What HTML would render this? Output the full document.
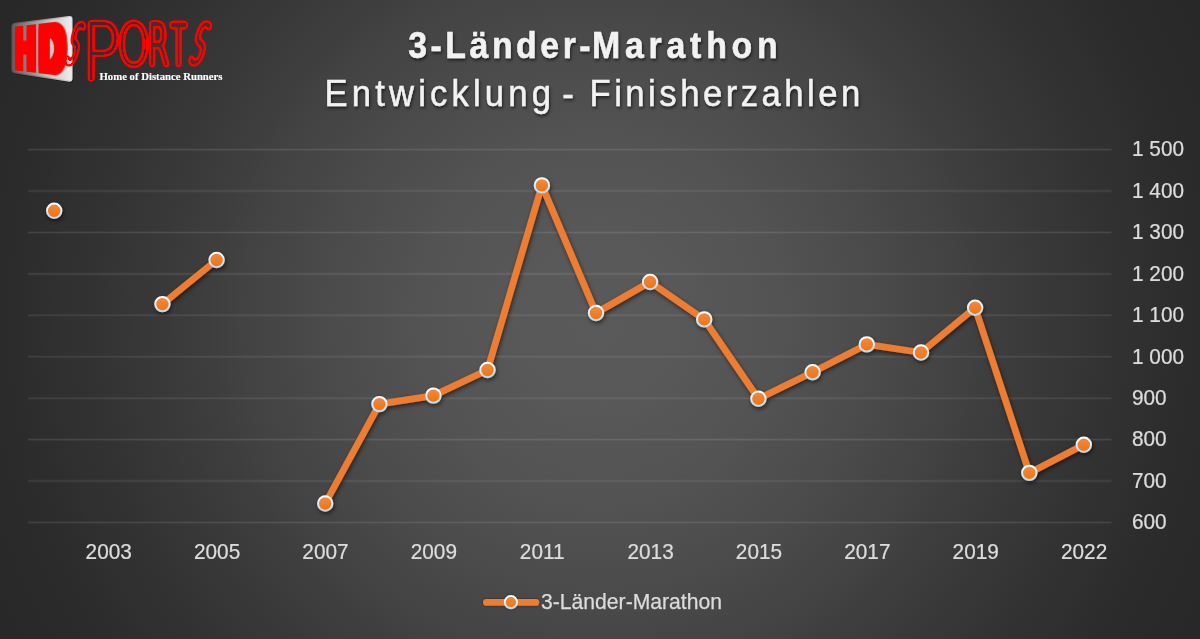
<!DOCTYPE html>
<html lang="de">
<head>
<meta charset="utf-8">
<title>3-Länder-Marathon – Entwicklung Finisherzahlen</title>
<style>
html,body{margin:0;padding:0;background:#2a2a2a;}
body{width:1200px;height:639px;overflow:hidden;}
#stage{position:relative;width:1200px;height:639px;overflow:hidden;}
.layer{position:absolute;left:0;top:0;display:block;}
.tv{position:absolute;left:3.24px;top:20.3px;width:68.6px;height:56.6px;
 transform-origin:34.3px 28.3px;transform:perspective(118px) rotateY(-30deg);}
.hd{position:absolute;left:6.0px;top:20.0px;font-family:"Liberation Sans",sans-serif;font-weight:bold;
 font-size:36.1px;line-height:36.1px;color:#ff0000;white-space:nowrap;letter-spacing:4.6px;
 transform-origin:0 30.56px;transform:scale(1,1.68);
 text-shadow:-3.30px -2.27px 0 #ff0000,-3.30px 0.00px 0 #ff0000,-3.30px 2.27px 0 #ff0000,-1.65px -2.27px 0 #ff0000,-1.65px 0.00px 0 #ff0000,-1.65px 2.27px 0 #ff0000,0.00px -2.27px 0 #ff0000,0.00px 2.27px 0 #ff0000,1.65px -2.27px 0 #ff0000,1.65px 0.00px 0 #ff0000,1.65px 2.27px 0 #ff0000,3.30px -2.27px 0 #ff0000,3.30px 0.00px 0 #ff0000,3.30px 2.27px 0 #ff0000;}
.sports{position:absolute;left:0;top:0;width:240px;height:100px;line-height:0;font-size:100px;font-family:'DejaVu Sans',"Liberation Sans",sans-serif;font-weight:200;color:#ff0000;white-space:nowrap;}
.sports span{display:inline-block;width:0;height:0;line-height:0;transform-origin:0 0;}
.sports{filter:url(#dbl);}

text{font-family:"Liberation Sans",sans-serif;}
.ax{font-size:21.4px;fill:#dcdcdc;stroke:#dcdcdc;stroke-width:0.25px;}
.t1{font-size:36.5px;font-weight:bold;fill:#f2f2f2;stroke:#f2f2f2;stroke-width:0.5px;}
.t2{font-size:36.5px;fill:#f2f2f2;stroke:#f2f2f2;stroke-width:0.45px;}
.tag{font-family:"Liberation Serif",serif;font-weight:bold;font-size:10.9px;fill:#ffffff;stroke:#ffffff;stroke-width:0.15px;}
</style>
</head>
<body>
<div id="stage">
<svg class="layer" width="1200" height="639" viewBox="0 0 1200 639">
<defs>
<radialGradient id="bg" gradientUnits="userSpaceOnUse" cx="600" cy="319.5" r="690" fx="600" fy="319.5">
<stop offset="0.0000" stop-color="rgb(90,90,90)"/>
<stop offset="0.0435" stop-color="rgb(89,89,89)"/>
<stop offset="0.0870" stop-color="rgb(89,89,89)"/>
<stop offset="0.1304" stop-color="rgb(88,88,88)"/>
<stop offset="0.1739" stop-color="rgb(86,86,86)"/>
<stop offset="0.2174" stop-color="rgb(85,85,85)"/>
<stop offset="0.2609" stop-color="rgb(83,83,83)"/>
<stop offset="0.3043" stop-color="rgb(80,80,80)"/>
<stop offset="0.3478" stop-color="rgb(78,78,78)"/>
<stop offset="0.3913" stop-color="rgb(75,75,75)"/>
<stop offset="0.4348" stop-color="rgb(72,72,72)"/>
<stop offset="0.4783" stop-color="rgb(69,69,69)"/>
<stop offset="0.5217" stop-color="rgb(66,66,66)"/>
<stop offset="0.5652" stop-color="rgb(62,62,62)"/>
<stop offset="0.6087" stop-color="rgb(59,59,59)"/>
<stop offset="0.6522" stop-color="rgb(56,56,56)"/>
<stop offset="0.6957" stop-color="rgb(53,53,53)"/>
<stop offset="0.7391" stop-color="rgb(50,50,50)"/>
<stop offset="0.7826" stop-color="rgb(48,48,48)"/>
<stop offset="0.8261" stop-color="rgb(45,45,45)"/>
<stop offset="0.8696" stop-color="rgb(43,43,43)"/>
<stop offset="0.9130" stop-color="rgb(42,42,42)"/>
<stop offset="0.9565" stop-color="rgb(40,40,40)"/>
<stop offset="1.0000" stop-color="rgb(39,39,39)"/>
</radialGradient>
</defs>
<rect x="0" y="0" width="1200" height="639" fill="url(#bg)"/>
<defs>
<linearGradient id="pg" x1="11" y1="0" x2="73" y2="0" gradientUnits="userSpaceOnUse">
<stop offset="0" stop-color="#5a5a5a"/><stop offset="0.3" stop-color="#8c8c8c"/><stop offset="0.65" stop-color="#c8c8c8"/><stop offset="1" stop-color="#f0f0f0"/>
</linearGradient>
<linearGradient id="pb" x1="11" y1="0" x2="73" y2="0" gradientUnits="userSpaceOnUse">
<stop offset="0" stop-color="#4e4e4e"/><stop offset="0.6" stop-color="#9a9a9a"/><stop offset="1" stop-color="#d8d8d8"/>
</linearGradient>
</defs>
<path d="M12.20 27.80 Q12.20 24.20 15.77 23.75 L69.83 16.95 Q73.40 16.50 73.40 20.10 L73.40 79.50 Q73.40 83.10 69.84 82.56 L15.76 74.34 Q12.20 73.80 12.20 70.20 Z" fill="#000000" fill-opacity="0.45"/>
<path d="M11.40 26.90 Q11.40 23.30 14.97 22.85 L69.03 16.05 Q72.60 15.60 72.60 19.20 L72.60 78.60 Q72.60 82.20 69.04 81.66 L14.96 73.44 Q11.40 72.90 11.40 69.30 Z" fill="url(#pb)"/>
<path d="M12.40 27.00 Q12.40 24.20 15.18 23.85 L68.82 17.15 Q71.60 16.80 71.60 19.60 L71.60 78.20 Q71.60 81.00 68.83 80.57 L15.17 72.33 Q12.40 71.90 12.40 69.10 Z" fill="url(#pg)"/>

</svg>
<div class="tv"><span class="hd">HD</span></div>

<svg class="layer" width="1200" height="639" viewBox="0 0 1200 639">
<defs>
<linearGradient id="mk" x1="0" y1="0" x2="0" y2="1">
<stop offset="0" stop-color="#f18a3f"/>
<stop offset="1" stop-color="#ee7411"/>
</linearGradient>
<linearGradient id="mkb" x1="0" y1="0" x2="0" y2="1">
<stop offset="0" stop-color="#ffffff"/>
<stop offset="1" stop-color="#bcd9f2"/>
</linearGradient>
<filter id="sh" x="-5%" y="-5%" width="110%" height="115%" filterUnits="objectBoundingBox">
<feGaussianBlur in="SourceAlpha" stdDeviation="2.2"/>
<feOffset dx="1.2" dy="2.2"/>
<feComponentTransfer><feFuncA type="linear" slope="0.55"/></feComponentTransfer>
<feMerge><feMergeNode/><feMergeNode in="SourceGraphic"/></feMerge>
</filter>
<filter id="lsh" x="-10%" y="-50%" width="120%" height="200%">
<feGaussianBlur in="SourceAlpha" stdDeviation="0.8"/>
<feOffset dx="0" dy="0.3"/>
<feComponentTransfer><feFuncA type="linear" slope="0.5"/></feComponentTransfer>
<feMerge><feMergeNode/><feMergeNode in="SourceGraphic"/></feMerge>
</filter>
<filter id="dbl" filterUnits="userSpaceOnUse" x="0" y="0" width="240" height="100" color-interpolation-filters="sRGB">
<feGaussianBlur in="SourceAlpha" stdDeviation="1.5"/>
<feComponentTransfer result="outer"><feFuncA type="linear" slope="10" intercept="-0.4"/></feComponentTransfer>
<feGaussianBlur in="SourceAlpha" stdDeviation="0.7"/>
<feComponentTransfer result="inner"><feFuncA type="linear" slope="-5" intercept="5.12"/></feComponentTransfer>
<feFlood flood-color="#ff0000"/>
<feComposite operator="in" in2="outer"/>
<feComposite operator="in" in2="inner"/>
</filter>
<filter id="tsh" x="-5%" y="-20%" width="110%" height="150%">
<feGaussianBlur in="SourceAlpha" stdDeviation="1.6"/>
<feOffset dx="0.8" dy="1.6"/>
<feComponentTransfer><feFuncA type="linear" slope="0.6"/></feComponentTransfer>
<feMerge><feMergeNode/><feMergeNode in="SourceGraphic"/></feMerge>
</filter>
</defs>

<g stroke="#ffffff" fill="none">
<line x1="27.8" y1="149.60" x2="1111.5" y2="149.60" stroke-opacity="0.035" stroke-width="3"/>
<line x1="27.8" y1="149.60" x2="1111.5" y2="149.60" stroke-opacity="0.075" stroke-width="1.1"/>
<line x1="27.8" y1="191.03" x2="1111.5" y2="191.03" stroke-opacity="0.035" stroke-width="3"/>
<line x1="27.8" y1="191.03" x2="1111.5" y2="191.03" stroke-opacity="0.075" stroke-width="1.1"/>
<line x1="27.8" y1="232.46" x2="1111.5" y2="232.46" stroke-opacity="0.035" stroke-width="3"/>
<line x1="27.8" y1="232.46" x2="1111.5" y2="232.46" stroke-opacity="0.075" stroke-width="1.1"/>
<line x1="27.8" y1="273.89" x2="1111.5" y2="273.89" stroke-opacity="0.035" stroke-width="3"/>
<line x1="27.8" y1="273.89" x2="1111.5" y2="273.89" stroke-opacity="0.075" stroke-width="1.1"/>
<line x1="27.8" y1="315.32" x2="1111.5" y2="315.32" stroke-opacity="0.035" stroke-width="3"/>
<line x1="27.8" y1="315.32" x2="1111.5" y2="315.32" stroke-opacity="0.075" stroke-width="1.1"/>
<line x1="27.8" y1="356.75" x2="1111.5" y2="356.75" stroke-opacity="0.035" stroke-width="3"/>
<line x1="27.8" y1="356.75" x2="1111.5" y2="356.75" stroke-opacity="0.075" stroke-width="1.1"/>
<line x1="27.8" y1="398.18" x2="1111.5" y2="398.18" stroke-opacity="0.035" stroke-width="3"/>
<line x1="27.8" y1="398.18" x2="1111.5" y2="398.18" stroke-opacity="0.075" stroke-width="1.1"/>
<line x1="27.8" y1="439.61" x2="1111.5" y2="439.61" stroke-opacity="0.035" stroke-width="3"/>
<line x1="27.8" y1="439.61" x2="1111.5" y2="439.61" stroke-opacity="0.075" stroke-width="1.1"/>
<line x1="27.8" y1="481.04" x2="1111.5" y2="481.04" stroke-opacity="0.035" stroke-width="3"/>
<line x1="27.8" y1="481.04" x2="1111.5" y2="481.04" stroke-opacity="0.075" stroke-width="1.1"/>
<line x1="27.8" y1="522.47" x2="1111.5" y2="522.47" stroke-opacity="0.035" stroke-width="3"/>
<line x1="27.8" y1="522.47" x2="1111.5" y2="522.47" stroke-opacity="0.075" stroke-width="1.1"/>
</g>
<g filter="url(#tsh)">
<text class="t1" transform="scale(0.927,1)" y="57.6"><tspan x="440.33" style="letter-spacing:3.818px">3-Länder-</tspan><tspan x="638.60" style="letter-spacing:5.166px">Marathon</tspan></text>
<text class="t2" transform="scale(0.949,1)" y="106.4"><tspan x="341.94" style="letter-spacing:4.393px">Entwicklung </tspan><tspan x="592.48" style="letter-spacing:0.000px">- </tspan><tspan x="621.18" style="letter-spacing:3.688px">Finisherzahlen</tspan></text>
</g>
<g class="ax" transform="scale(0.972,1)">
<text x="1164.61" y="156.40">1 500</text>
<text x="1164.61" y="197.83">1 400</text>
<text x="1164.61" y="239.26">1 300</text>
<text x="1164.61" y="280.69">1 200</text>
<text x="1164.61" y="322.12">1 100</text>
<text x="1164.61" y="363.55">1 000</text>
<text x="1164.61" y="404.98">900</text>
<text x="1164.61" y="446.41">800</text>
<text x="1164.61" y="487.84">700</text>
<text x="1164.61" y="529.27">600</text>
<text x="111.87" y="559.1" text-anchor="middle">2003</text>
<text x="223.36" y="559.1" text-anchor="middle">2005</text>
<text x="334.86" y="559.1" text-anchor="middle">2007</text>
<text x="446.36" y="559.1" text-anchor="middle">2009</text>
<text x="557.85" y="559.1" text-anchor="middle">2011</text>
<text x="669.35" y="559.1" text-anchor="middle">2013</text>
<text x="780.84" y="559.1" text-anchor="middle">2015</text>
<text x="892.34" y="559.1" text-anchor="middle">2017</text>
<text x="1003.83" y="559.1" text-anchor="middle">2019</text>
<text x="1115.33" y="559.1" text-anchor="middle">2022</text>
</g>
<g filter="url(#sh)">
<g fill="none" stroke="#ee7d31" stroke-width="6.7" stroke-linecap="round" stroke-linejoin="round">
<polyline points="162.4,304.1 216.6,260.0"/>
<polyline points="325.2,503.5 379.4,404.1 433.4,395.6 487.5,370.0 541.9,185.4 596.0,313.0 650.1,282.0 704.2,319.4 758.4,398.7 812.6,372.2 866.8,344.4 921.0,352.5 975.1,307.7 1029.3,472.9 1083.8,444.8"/>
</g>
<g fill="url(#mk)" stroke="url(#mkb)" stroke-width="2">
<circle cx="54.2" cy="210.8" r="7.2"/>
<circle cx="162.4" cy="304.1" r="7.2"/>
<circle cx="216.6" cy="260.0" r="7.2"/>
<circle cx="325.2" cy="503.5" r="7.2"/>
<circle cx="379.4" cy="404.1" r="7.2"/>
<circle cx="433.4" cy="395.6" r="7.2"/>
<circle cx="487.5" cy="370.0" r="7.2"/>
<circle cx="541.9" cy="185.4" r="7.2"/>
<circle cx="596.0" cy="313.0" r="7.2"/>
<circle cx="650.1" cy="282.0" r="7.2"/>
<circle cx="704.2" cy="319.4" r="7.2"/>
<circle cx="758.4" cy="398.7" r="7.2"/>
<circle cx="812.6" cy="372.2" r="7.2"/>
<circle cx="866.8" cy="344.4" r="7.2"/>
<circle cx="921.0" cy="352.5" r="7.2"/>
<circle cx="975.1" cy="307.7" r="7.2"/>
<circle cx="1029.3" cy="472.9" r="7.2"/>
<circle cx="1083.8" cy="444.8" r="7.2"/>
</g>
</g>
<g filter="url(#lsh)">
<line x1="486.4" y1="602.4" x2="535.9" y2="602.4" fill="none" stroke="#ee7d31" stroke-width="6.7" stroke-linecap="round"/>
<circle cx="510.9" cy="602.2" r="6.1" fill="url(#mk)" stroke="url(#mkb)" stroke-width="2"/>
</g>
<text class="ax" x="541.0" y="608.6" textLength="181" lengthAdjust="spacingAndGlyphs">3-Länder-Marathon</text>
<g id="logo">
<text class="tag" x="99.5" y="80.2" textLength="123" lengthAdjust="spacingAndGlyphs">Home of Distance Runners</text>
</g>

</svg>
<div class="sports"><span style="-webkit-text-stroke:4.50px currentColor;transform:matrix(0.1745,0.0000,-0.1533,0.5309,69.32,44.83)">S</span><span style="transform:matrix(0.6500,0.0000,0.0000,0.8068,81.70,52.86)">P</span><span style="-webkit-text-stroke:1.22px currentColor;transform:matrix(0.4127,0.0000,0.0000,0.5833,117.50,45.50)">O</span><span style="-webkit-text-stroke:3.48px currentColor;transform:matrix(0.3036,0.0000,0.0000,0.5727,147.66,45.48)">R</span><span style="-webkit-text-stroke:5.77px currentColor;transform:matrix(0.2397,0.0000,0.0000,0.5506,171.24,45.73)">T</span><span style="-webkit-text-stroke:4.50px currentColor;transform:matrix(0.2158,0.0000,-0.1545,0.5370,193.02,45.09)">S</span></div>
</div>
</body>
</html>
